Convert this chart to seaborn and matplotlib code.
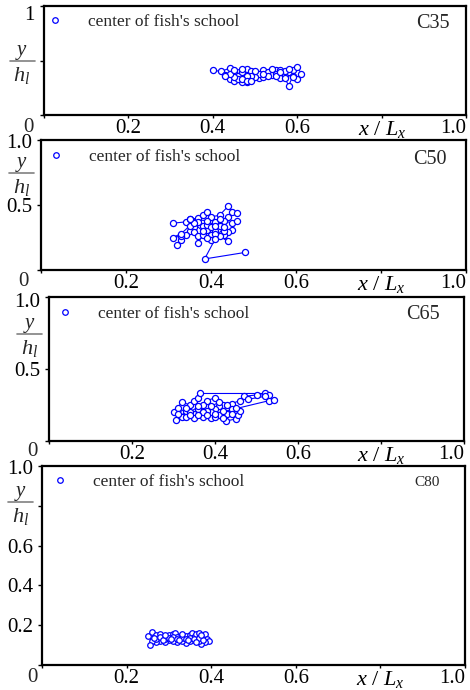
import numpy as np
import pandas as pd
import matplotlib
matplotlib.use("Agg")
import matplotlib.pyplot as plt
import matplotlib.transforms as mtransforms
from matplotlib.lines import Line2D
import seaborn as sns

# ---------------- data ----------------
case_names = ["C35", "C50", "C65", "C80"]

c35_x = [0.40, 0.42, 0.44, 0.45, 0.43, 0.44, 0.45, 0.46, 0.47, 0.48, 0.49, 0.50, 0.49, 0.51,
         0.52, 0.53, 0.52, 0.54, 0.55, 0.56, 0.57, 0.58, 0.59, 0.60, 0.61, 0.60, 0.59, 0.58,
         0.57, 0.56, 0.55, 0.54, 0.53, 0.51, 0.50, 0.49, 0.48, 0.47, 0.46, 0.45, 0.44, 0.43,
         0.45, 0.47, 0.48, 0.47, 0.48, 0.49, 0.50, 0.52, 0.55, 0.57, 0.58, 0.59, 0.56]
c35_y = [0.41, 0.40, 0.43, 0.39, 0.37, 0.33, 0.31, 0.36, 0.39, 0.42, 0.40, 0.37, 0.32, 0.34,
         0.41, 0.39, 0.35, 0.37, 0.41, 0.34, 0.37, 0.39, 0.41, 0.44, 0.38, 0.33, 0.36, 0.27,
         0.34, 0.41, 0.38, 0.42, 0.36, 0.38, 0.35, 0.36, 0.30, 0.30, 0.33, 0.35, 0.38, 0.36,
         0.41, 0.42, 0.36, 0.33, 0.31, 0.31, 0.40, 0.38, 0.36, 0.40, 0.42, 0.35, 0.39]

c50_x = [0.31, 0.34, 0.35, 0.37, 0.38, 0.39, 0.40, 0.42, 0.44, 0.45, 0.46, 0.44, 0.43, 0.45,
         0.46, 0.45, 0.44, 0.43, 0.44, 0.42, 0.41, 0.40, 0.39, 0.38, 0.37, 0.36, 0.35, 0.34,
         0.33, 0.32, 0.33, 0.31, 0.33, 0.35, 0.36, 0.37, 0.37, 0.38, 0.39, 0.40, 0.41, 0.42,
         0.43, 0.42, 0.41, 0.40, 0.39, 0.38, 0.36, 0.35, 0.39, 0.41, 0.43, 0.41, 0.385, 0.48]
c50_y = [0.36, 0.37, 0.39, 0.40, 0.42, 0.45, 0.41, 0.42, 0.49, 0.45, 0.44, 0.41, 0.38, 0.36,
         0.38, 0.31, 0.29, 0.27, 0.22, 0.26, 0.30, 0.27, 0.31, 0.34, 0.37, 0.33, 0.30, 0.27,
         0.23, 0.19, 0.26, 0.25, 0.28, 0.34, 0.29, 0.26, 0.21, 0.27, 0.35, 0.33, 0.37, 0.34,
         0.30, 0.39, 0.28, 0.23, 0.25, 0.30, 0.36, 0.39, 0.38, 0.34, 0.33, 0.24, 0.085, 0.135]

c65_x = [0.30, 0.31, 0.32, 0.34, 0.35, 0.36, 0.365, 0.52, 0.53, 0.50, 0.47, 0.46, 0.44, 0.42,
         0.40, 0.38, 0.37, 0.36, 0.35, 0.33, 0.32, 0.306, 0.33, 0.35, 0.37, 0.39, 0.41, 0.427,
         0.45, 0.455, 0.46, 0.44, 0.43, 0.42, 0.41, 0.40, 0.39, 0.38, 0.37, 0.36, 0.34, 0.33,
         0.31, 0.34, 0.36, 0.38, 0.40, 0.42, 0.44, 0.45, 0.43, 0.41, 0.39, 0.40, 0.53, 0.542,
         0.52, 0.48]
c65_y = [0.20, 0.23, 0.27, 0.25, 0.28, 0.30, 0.33, 0.33, 0.32, 0.32, 0.31, 0.28, 0.26, 0.25,
         0.30, 0.28, 0.25, 0.22, 0.19, 0.21, 0.17, 0.146, 0.17, 0.16, 0.17, 0.16, 0.18, 0.139,
         0.153, 0.18, 0.21, 0.22, 0.19, 0.21, 0.24, 0.22, 0.20, 0.21, 0.20, 0.24, 0.20, 0.23,
         0.19, 0.18, 0.18, 0.18, 0.17, 0.16, 0.19, 0.23, 0.25, 0.27, 0.24, 0.19, 0.28, 0.285,
         0.31, 0.29]

c80_x = [0.25, 0.26, 0.27, 0.28, 0.29, 0.30, 0.31, 0.315, 0.32, 0.33, 0.34, 0.35, 0.355, 0.36,
         0.365, 0.37, 0.38, 0.385, 0.39, 0.395, 0.385, 0.375, 0.37, 0.36, 0.35, 0.34, 0.33, 0.32,
         0.31, 0.30, 0.29, 0.28, 0.27, 0.26, 0.255, 0.27, 0.28, 0.29, 0.30, 0.31, 0.32, 0.33,
         0.34, 0.35, 0.36, 0.37, 0.38, 0.365, 0.345, 0.325, 0.305, 0.285, 0.265, 0.29, 0.33, 0.375]
c80_y = [0.145, 0.165, 0.15, 0.155, 0.14, 0.15, 0.155, 0.16, 0.14, 0.15, 0.145, 0.15, 0.16, 0.14,
         0.155, 0.16, 0.14, 0.155, 0.13, 0.12, 0.115, 0.105, 0.12, 0.125, 0.12, 0.11, 0.12, 0.115,
         0.12, 0.125, 0.115, 0.12, 0.115, 0.12, 0.10, 0.13, 0.14, 0.13, 0.135, 0.14, 0.13, 0.135,
         0.13, 0.135, 0.13, 0.135, 0.125, 0.115, 0.125, 0.125, 0.13, 0.125, 0.135, 0.15, 0.155, 0.15]

xs = [c35_x, c50_x, c65_x, c80_x]
ys = [c35_y, c50_y, c65_y, c80_y]

x_ticks = [0, 0.2, 0.4, 0.6, 0.8, 1.0]
x_ticklabels = ["", "0.2", "0.4", "0.6", r"$x\ /\ L_x$", "1.0"]
y_ticks = [[0, 0.5, 1.0], [0, 0.5, 1.0], [0, 0.5, 1.0], [0, 0.2, 0.4, 0.6, 0.8, 1.0]]
y_ticklabels = [["", "", "1"], ["", "0.5", "1.0"], ["", "0.5", "1.0"],
                ["", "0.2", "0.4", "0.6", "", "1.0"]]
legend_label = "center of fish's school"

# ---------------- style ----------------
sns.set_style("ticks")
plt.rcParams["font.family"] = ["Liberation Serif", "DejaVu Serif"]
plt.rcParams["mathtext.fontset"] = "custom"
plt.rcParams["mathtext.rm"] = "Liberation Serif"
plt.rcParams["mathtext.it"] = "Liberation Serif:italic"
plt.rcParams["mathtext.bf"] = "Liberation Serif:bold"

BLUE = "#0000FF"
W, H = 470, 690
TICK_FS = 15
LEG_FS = 12.5
fig = plt.figure(figsize=(W / 100, H / 100), dpi=100)

# axes boxes in pixels: left, right, top, bottom
boxes = [(44, 466, 6, 115), (41, 466, 140, 270), (49, 464, 297, 441), (42, 465, 466, 665)]
frac_y = [0.5, 0.75, 0.74, 0.82]
frac_cx = [-22, -19.5, -19.5, -21.5]
case_dx = [16, 19, 24, 25]
case_dy = [17, 20, 18, 16]
case_fs = [14.5, 14.5, 14.5, 11]
zero_off = [(-16, -12), (-18, -12), (-17, -10), (-10, -13)]
top_lbl_drop = [9, 4, 6, 4]
leg_pos = [(55, 22), (56, 157), (65, 314), (60, 482)]
ms_list = [4.4, 4.4, 4.4, 4.0]

fs_px = LEG_FS * 100 / 72
hl = 0.8
for i in range(4):
    l, r, t, b = boxes[i]
    ax = fig.add_axes([l / W, 1 - b / H, (r - l) / W, (b - t) / H])
    df = pd.DataFrame({"x": xs[i], "y": ys[i]})
    sns.lineplot(data=df, x="x", y="y", sort=False, estimator=None, ax=ax,
                 color=BLUE, lw=0.8, marker="o", markersize=ms_list[i],
                 markerfacecolor="white", markeredgecolor=BLUE, markeredgewidth=0.9)
    ax.set_xlim(0, 1)
    ax.set_ylim(0, 1)
    ax.set_xlabel("")
    ax.set_ylabel("")
    ax.set_xticks(x_ticks)
    ax.set_xticklabels(x_ticklabels, fontsize=TICK_FS)
    ax.set_yticks(y_ticks[i])
    ax.set_yticklabels(y_ticklabels[i], fontsize=TICK_FS)
    ax.tick_params(axis="x", direction="out", length=2.5, width=1, pad=0.5, colors="black")
    ax.tick_params(axis="y", direction="out", length=3, width=1, pad=3.5, colors="black")
    for lbl in ax.get_xticklabels():
        if lbl.get_text() == "1.0":
            lbl.set_ha("right")
        if lbl.get_text().startswith("$"):
            lbl.set_fontsize(16)
    drop = mtransforms.ScaledTranslation(0, -top_lbl_drop[i] / 100, fig.dpi_scale_trans)
    for lbl in ax.get_yticklabels():
        if lbl.get_text() in ("1", "1.0"):
            lbl.set_va("center")
            lbl.set_transform(lbl.get_transform() + drop)
    for s in ax.spines.values():
        s.set_visible(True)
        s.set_linewidth(1.6)
        s.set_color("black")

    # corner "0"
    ax.annotate("0", xy=(0, 0), xycoords="axes fraction", xytext=zero_off[i],
                textcoords="offset pixels", ha="center", va="center", fontsize=TICK_FS)

    # case label
    ax.annotate(case_names[i], xy=(1, 1), xycoords="axes fraction",
                xytext=(-case_dx[i], -case_dy[i]), textcoords="offset pixels",
                ha="right", va="center", fontsize=case_fs[i])

    # y / h_l fraction label
    wpx = r - l
    bt = mtransforms.blended_transform_factory(ax.transAxes, ax.transData)
    cx = frac_cx[i] / wpx
    ln = Line2D([cx - 12.5 / wpx, cx + 12.5 / wpx], [frac_y[i], frac_y[i]],
                transform=bt, color="#808080", lw=1.2, clip_on=False)
    ax.add_line(ln)
    ax.annotate(r"$y$", xy=(cx, frac_y[i]), xycoords=bt, xytext=(0, -1),
                textcoords="offset pixels", ha="center", va="bottom", fontsize=15)
    ax.annotate(r"$h_l$", xy=(cx, frac_y[i]), xycoords=bt, xytext=(0, -4),
                textcoords="offset pixels", ha="center", va="top", fontsize=16)

    # legend
    handle = Line2D([], [], linestyle="none", marker="o", markersize=4,
                    markerfacecolor="none", markeredgecolor=BLUE, markeredgewidth=0.9)
    lx, ly = leg_pos[i]
    start = lx - hl * fs_px / 2
    pad = (33 - hl * fs_px / 2) / fs_px
    ax.legend([handle], [legend_label], loc="center left",
              bbox_to_anchor=((start - l) / wpx, 1 - (ly - t) / (b - t)),
              frameon=False, fontsize=LEG_FS, handlelength=hl, handletextpad=pad,
              borderaxespad=0, borderpad=0)

fig.savefig("out.png", dpi=100)
